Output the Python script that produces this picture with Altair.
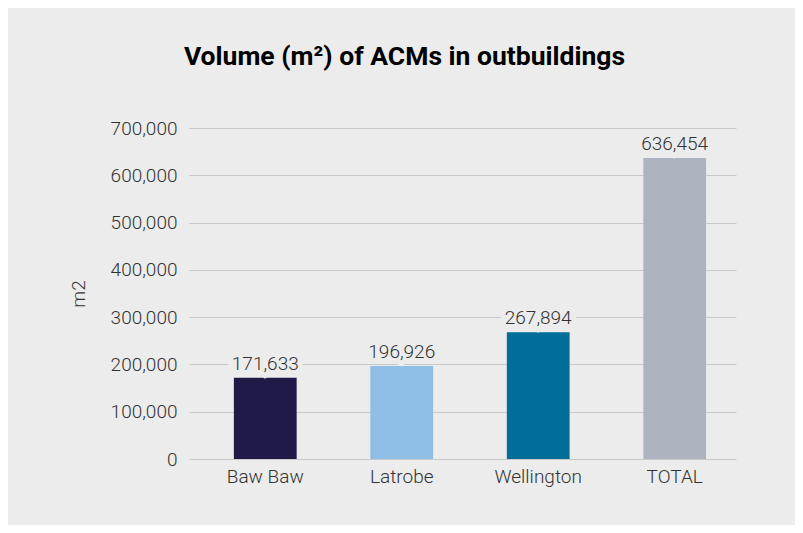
import altair as alt
import pandas as pd

categories = ["Baw Baw", "Latrobe", "Wellington", "TOTAL"]
values = [171633, 196926, 267894, 636454]
colors = ["#201a48", "#8ebde6", "#006e99", "#adb4bf"]
y_ticks = [0, 100000, 200000, 300000, 400000, 500000, 600000, 700000]

df = pd.DataFrame({"category": categories, "value": values})

BG = "#ececec"
TXT = "#333333"
FONT = "Roboto"

x = alt.X("category:N", sort=categories, title=None,
          scale=alt.Scale(paddingInner=0.54, paddingOuter=0.274, align=0.6),
          axis=alt.Axis(labelAngle=0, labelFont=FONT, labelFontWeight=300,
                        labelFontSize=19, labelColor=TXT, labelPadding=8,
                        ticks=False, domain=False, grid=False))
y = alt.Y("value:Q", title="m2",
          scale=alt.Scale(domain=[0, 700000], nice=False),
          axis=alt.Axis(values=y_ticks, format=",.0f", labelFont=FONT,
                        labelFontWeight=300, labelFontSize=19, labelColor=TXT,
                        labelPadding=12, ticks=False, domain=False,
                        grid=True, gridColor="#c8c8c8", gridWidth=1,
                        titleFont=FONT, titleFontWeight=300, titleFontSize=19,
                        titleColor=TXT, titlePadding=22))

bars = alt.Chart(df).mark_bar().encode(
    x=x, y=y,
    color=alt.Color("category:N", sort=categories,
                    scale=alt.Scale(domain=categories, range=colors),
                    legend=None),
)

halo = alt.Chart(df).mark_text(
    baseline="alphabetic", dy=-8, font=FONT, fontWeight=300, fontSize=19,
    fill=BG, stroke=BG, strokeWidth=10,
).encode(
    x=alt.X("category:N", sort=categories),
    y="value:Q",
    text=alt.Text("value:Q", format=",.0f"),
)

labels = alt.Chart(df).mark_text(
    baseline="alphabetic", dy=-8, font=FONT, fontWeight=300, fontSize=19,
    color=TXT,
).encode(
    x=alt.X("category:N", sort=categories),
    y="value:Q",
    text=alt.Text("value:Q", format=",.0f"),
)

chart = alt.layer(bars, halo, labels).properties(
    width=547,
    height=331,
    title=alt.TitleParams(
        "Volume (m²) of ACMs in outbuildings",
        font=FONT, fontWeight="bold", fontSize=26.5, color="#000000",
        anchor="middle", dx=-58, offset=49,
    ),
    padding={"left": 181, "top": 120, "right": 59, "bottom": 66},
    autosize=alt.AutoSizeParams(type="none"),
).configure(
    background=BG,
).configure_view(
    stroke=None,
)

chart.save("out.html", embed_options={"renderer": "svg", "actions": False})
